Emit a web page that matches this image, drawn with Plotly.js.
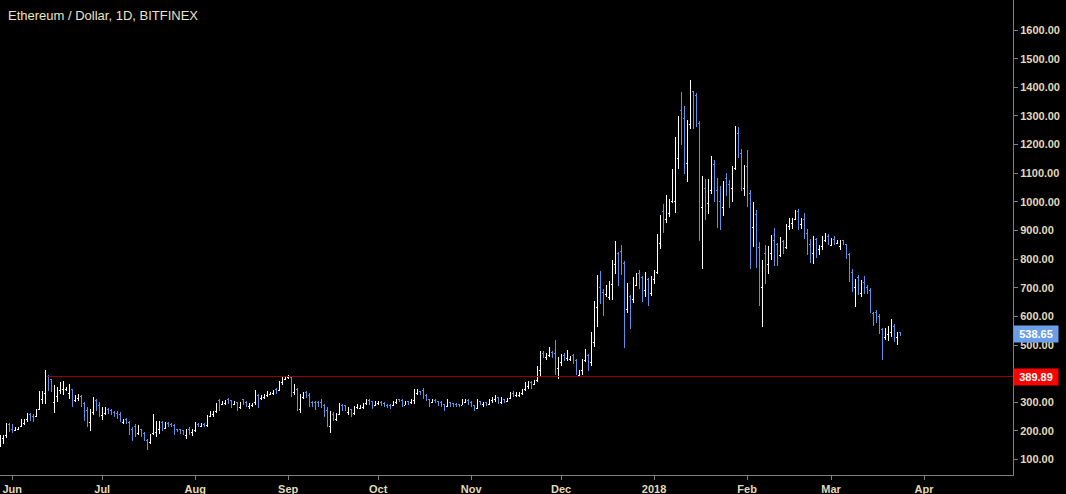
<!DOCTYPE html>
<html>
<head>
<meta charset="utf-8">
<script src="https://cdn.plot.ly/plotly-3.0.1.min.js"></script>
<style>
  html, body { margin: 0; padding: 0; background: #000; }
  #chart { width: 1066px; height: 494px; }
  #chart .ohlc path { shape-rendering: crispEdges; }
</style>
</head>
<body>
<div id="chart"></div>
<script>
// Daily bars from 2017-05-28 to 2018-03-24 (one value per day, grouped by month)
const firstDay = [2017, 4, 28];

const open = [
  150,175,183,222,
  205,200,206,214,225,240,258,250,250,275,310,330,390,378,300,320,340,345,343,330,345,305,312,320,295,270,230,265,305,290,
  255,262,275,270,265,262,258,230,240,230,205,215,192,205,190,168,158,190,195,205,228,210,225,224,218,205,204,200,185,205,195,
  200,224,216,224,218,252,258,268,305,292,296,310,305,292,298,282,308,300,285,288,298,322,312,318,325,328,332,346,342,368,380,
  385,388,335,345,275,315,335,325,300,298,298,300,290,270,215,258,240,258,290,288,265,275,260,282,280,282,295,306,302,288,
  295,300,295,290,290,288,298,310,306,290,304,298,305,330,338,340,322,310,300,306,302,298,292,285,298,295,293,292,290,300,306,
  298,288,280,302,292,298,292,305,310,318,300,310,304,312,332,322,325,330,345,355,370,362,375,410,472,455,465,475,470,418,
  440,465,452,450,465,445,395,410,445,465,440,510,630,700,685,675,665,710,780,820,828,785,625,670,658,708,750,735,690,728,680,
  730,755,855,965,940,960,1000,1000,1150,1320,1290,1134,1270,1385,1370,1275,980,1045,994,1040,1130,1040,1000,980,1080,1060,1046,1115,1240,1170,1046,
  1125,1030,910,955,840,700,820,780,820,865,850,812,860,840,915,925,940,965,920,940,890,850,820,870,835,845,866,880,
  848,870,855,845,866,850,815,755,700,735,680,720,700,690,610,612,600,555,525,535,545,565,525,542
];

const high = [
  184,187,227,229,
  225,213,215,243,241,263,263,260,277,341,341,411,394,382,359,353,370,376,355,365,347,324,330,324,300,283,277,318,312,300,
  283,283,280,277,271,271,265,242,246,236,213,225,222,207,196,172,190,260,236,234,234,231,231,229,225,207,207,204,207,213,207,
  231,227,227,227,257,269,271,297,312,306,309,316,309,304,300,300,312,306,297,297,344,330,324,330,339,336,344,351,374,388,390,
  394,390,365,351,330,336,339,332,306,304,306,312,295,283,268,265,262,298,295,291,283,277,286,295,291,298,312,310,306,303,
  306,303,300,295,295,306,310,312,310,303,306,310,347,345,341,349,330,312,310,310,306,303,295,310,300,298,296,295,310,312,310,
  306,291,310,306,300,302,312,318,326,320,318,312,314,335,338,335,335,347,370,374,374,379,425,479,479,472,493,479,516,458,
  467,472,481,463,469,452,413,452,487,470,545,652,743,757,697,711,722,798,862,825,848,792,716,673,737,751,763,741,755,735,741,
  761,889,953,994,1023,1011,1116,1227,1299,1384,1334,1285,1425,1387,1381,1282,1089,1079,1079,1159,1145,1084,1056,1072,1102,1078,1124,1264,1260,1183,1128,
  1180,1041,1000,973,860,798,848,845,883,907,856,877,868,922,945,944,973,976,945,961,904,869,880,875,850,880,891,887,
  875,880,868,868,868,852,821,767,732,743,728,740,708,700,615,623,607,560,560,565,592,574,545,545
];

const low = [
  143,155,176,196,
  192,199,204,213,219,230,236,230,248,274,295,295,341,335,262,300,330,324,341,312,283,300,306,283,236,213,199,254,271,248,
  239,254,260,254,248,242,231,225,225,184,166,178,184,178,166,134,155,184,178,190,201,207,215,213,184,196,190,184,172,184,182,
  196,213,213,213,213,248,250,262,271,289,292,295,281,289,269,277,292,283,277,285,292,281,309,312,318,324,327,330,340,359,379,
  382,320,324,269,262,312,316,285,285,274,285,281,250,215,192,236,234,254,271,268,256,248,256,277,277,277,291,291,277,286,
  289,286,283,281,277,286,295,300,283,289,291,295,295,326,324,312,306,283,298,298,286,283,271,283,283,283,283,283,289,298,291,
  283,268,277,290,285,288,290,298,302,295,295,298,300,310,318,320,320,324,341,347,347,359,370,388,455,446,458,455,397,382,
  425,444,444,444,434,397,388,397,440,409,425,493,563,644,603,668,656,656,747,705,743,489,612,555,647,705,697,650,667,636,670,
  714,749,837,891,927,947,996,961,1115,1198,1096,1070,1253,1256,1262,863,765,936,957,1027,1000,909,901,951,1020,979,1000,1110,1154,1038,1020,
  982,767,842,769,636,563,714,749,796,775,776,807,819,837,901,906,936,901,906,872,813,786,782,805,813,831,860,848,
  845,848,852,833,848,802,720,685,633,673,668,677,677,612,565,577,539,448,516,514,528,510,499,530
];

const close = [
  178,183,220,205,
  200,210,213,238,240,258,248,245,272,332,338,393,380,345,350,345,362,368,352,355,300,318,325,290,250,240,265,305,285,265,
  275,278,265,260,255,250,238,238,230,195,175,195,215,190,172,150,185,235,225,228,210,225,218,216,192,198,194,190,200,195,204,
  225,218,224,217,250,262,268,290,292,302,305,300,290,300,282,296,298,290,292,295,325,312,320,325,332,334,340,336,368,378,386,
  390,350,345,290,315,330,325,295,292,290,292,288,262,225,250,245,255,290,278,275,280,255,282,292,290,294,308,295,285,300,
  302,292,288,284,282,302,306,304,290,300,296,306,338,340,330,320,312,295,308,300,292,288,280,302,290,290,288,287,302,308,296,
  290,278,305,296,298,292,308,315,320,300,312,302,312,330,322,330,332,342,360,368,355,375,412,472,462,468,480,462,425,445,
  462,452,470,460,445,410,410,440,470,435,510,630,695,683,672,690,712,785,840,798,790,700,700,650,725,745,735,690,735,700,735,
  755,855,940,940,1000,1000,1090,1150,1270,1282,1245,1270,1395,1360,1352,1070,1020,1000,1040,1145,1046,996,975,1045,1060,1046,1110,1240,1172,1073,1115,
  1037,915,965,835,700,785,755,815,865,850,812,865,840,915,935,938,965,925,940,890,850,822,855,845,848,866,880,868,
  870,858,862,864,856,815,750,700,725,690,718,705,690,620,600,598,555,530,550,555,562,538,542,538.65
];

const xTickVals = ['2017-06-01','2017-07-01','2017-08-01','2017-09-01','2017-10-01','2017-11-01',
                   '2017-12-01','2018-01-01','2018-02-01','2018-03-01','2018-04-01'];
const xTickText = ['Jun','Jul','Aug','Sep','Oct','Nov','Dec','2018','Feb','Mar','Apr'];
// 400.00 is hidden behind the 389.89 price label in the reference
const yTickVals = [100,200,300,400,500,600,700,800,900,1000,1100,1200,1300,1400,1500,1600];
const yTickText = ['100.00','200.00','300.00','','500.00','600.00','700.00','800.00',
                   '900.00','1000.00','1100.00','1200.00','1300.00','1400.00','1500.00','1600.00'];
const levelValue = 389.89;
const levelStart = '2017-06-12 12:00';
const lastPrice = 538.65;
const titleText = 'Ethereum / Dollar, 1D, BITFINEX';

const dates = [];
for (let i = 0; i < close.length; i++) {
  const t = new Date(Date.UTC(firstDay[0], firstDay[1], firstDay[2] + i));
  dates.push(t.toISOString().slice(0, 10));
}

const labelFont = {family: 'Liberation Sans, Arial, sans-serif', size: 11, color: '#e2dab8', weight: 'bold'};

const trace = {
  type: 'ohlc',
  x: dates, open: open, high: high, low: low, close: close,
  increasing: {line: {color: '#ffffff', width: 1}},
  decreasing: {line: {color: '#5b93ec', width: 1}},
  tickwidth: 0.35,
  hoverinfo: 'none'
};

const layout = {
  width: 1066, height: 494,
  paper_bgcolor: '#000000', plot_bgcolor: '#000000',
  margin: {l: 0, r: 53, t: 0, b: 19, pad: 0},
  showlegend: false,
  xaxis: {
    type: 'date',
    range: ['2017-05-27 22:00', '2018-04-30 16:00'],
    tickvals: xTickVals, ticktext: xTickText,
    showgrid: false, zeroline: false,
    showline: true, linecolor: '#7f7f7f', linewidth: 1,
    ticks: 'outside', ticklen: 4, tickcolor: '#7f7f7f',
    tickfont: labelFont,
    rangeslider: {visible: false},
    fixedrange: true
  },
  yaxis: {
    side: 'right',
    range: [46, 1705],
    tickvals: yTickVals, ticktext: yTickText,
    showgrid: false, zeroline: false,
    showline: true, linecolor: '#7f7f7f', linewidth: 1,
    ticks: 'outside', ticklen: 4, tickcolor: '#7f7f7f',
    tickfont: labelFont,
    fixedrange: true
  },
  shapes: [{
    type: 'line', xref: 'x', yref: 'y',
    x0: levelStart, x1: '2018-07-01', y0: levelValue, y1: levelValue,
    line: {color: '#9a0000', width: 1}
  }],
  annotations: [
    {
      xref: 'paper', yref: 'paper', x: 0.006, y: 1 - 16/475,
      xanchor: 'left', yanchor: 'middle', showarrow: false,
      text: titleText,
      font: {family: 'Liberation Sans, Arial, sans-serif', size: 13, color: '#ece3c2'}
    },
    {
      xref: 'paper', yref: 'y', x: 1, y: lastPrice,
      xanchor: 'left', yanchor: 'middle', showarrow: false,
      text: lastPrice.toFixed(2), bgcolor: '#6a9ee9', borderpad: 1,
      width: 42, height: 14,
      font: {family: 'Liberation Sans, Arial, sans-serif', size: 11, color: '#ffffff', weight: 'bold'}
    },
    {
      xref: 'paper', yref: 'y', x: 1, y: levelValue,
      xanchor: 'left', yanchor: 'middle', showarrow: false,
      text: levelValue.toFixed(2), bgcolor: '#ff0000', borderpad: 1,
      width: 42, height: 14,
      font: {family: 'Liberation Sans, Arial, sans-serif', size: 11, color: '#ffffff', weight: 'bold'}
    }
  ]
};

Plotly.newPlot('chart', [trace], layout, {displayModeBar: false, staticPlot: true});
</script>
</body>
</html>
